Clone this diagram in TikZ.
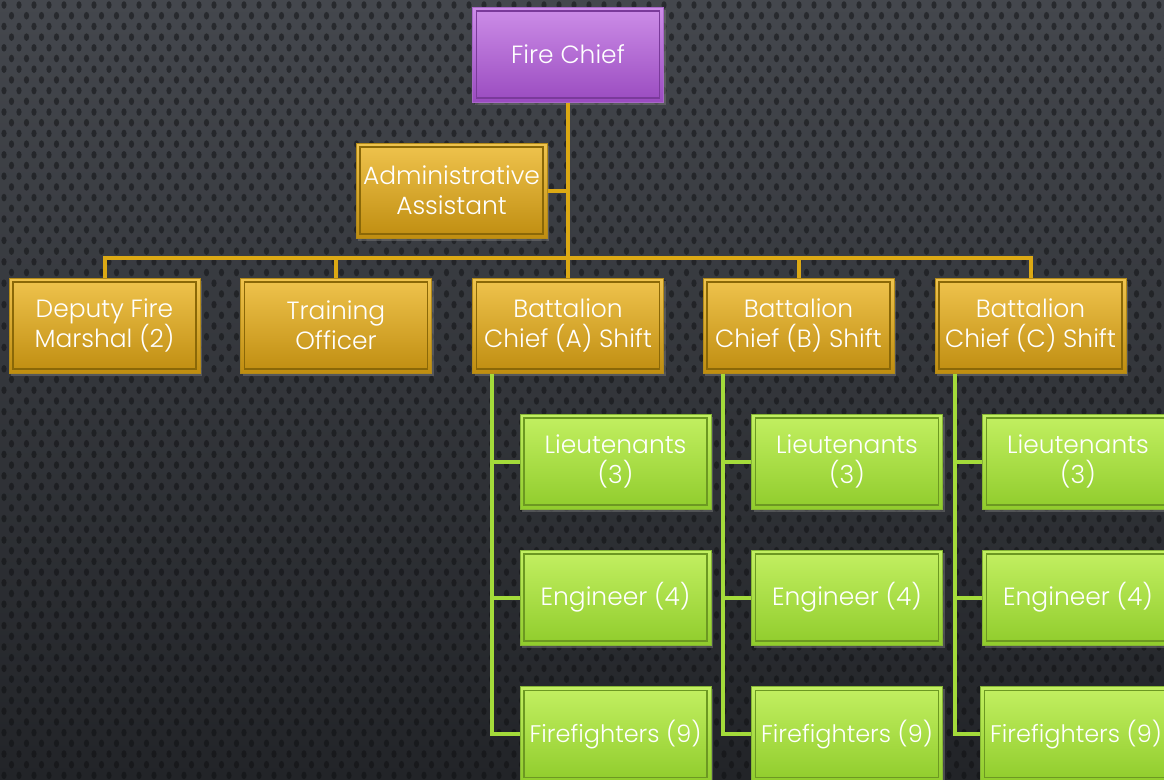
\documentclass[tikz,border=0pt]{standalone}
\usepackage{fontspec}
\setmainfont{Poppins Light}
\usetikzlibrary{calc,shadows}

% palette
\definecolor{bgTop}{HTML}{44474D}
\definecolor{bgBot}{HTML}{222428}
\definecolor{dotC}{HTML}{0E0F11}
\definecolor{chiefTop}{HTML}{CD8EE8}
\definecolor{chiefBot}{HTML}{9A4BC0}
\definecolor{chiefEdge}{HTML}{A868C8}
\definecolor{chiefIn}{HTML}{7A3A9A}
\definecolor{goldTop}{HTML}{F0C44E}
\definecolor{goldBot}{HTML}{BF8D10}
\definecolor{goldEdge}{HTML}{B38A18}
\definecolor{goldIn}{HTML}{8A6808}
\definecolor{goldLine}{HTML}{DCA914}
\definecolor{grnTop}{HTML}{C3F062}
\definecolor{grnBot}{HTML}{90CC2C}
\definecolor{grnEdge}{HTML}{86B634}
\definecolor{grnIn}{HTML}{6C9822}
\definecolor{grnLine}{HTML}{A4DB3A}

\tikzset{
  unitbox/.style={rectangle, minimum width=143.25pt, minimum height=71.25pt,
    inner sep=0pt, align=center, text=white, line width=0.75pt,
    font=\fontsize{18.7}{22.5}\selectfont,
    drop shadow={opacity=0.45, shadow xshift=1.5pt, shadow yshift=-2pt}},
  frame/.style={path picture={\draw[#1, line width=1pt]
      ([shift={(3pt,-3pt)}]path picture bounding box.north west) rectangle
      ([shift={(-3pt,3pt)}]path picture bounding box.south east);}},
  chiefbox/.style={unitbox, top color=chiefTop, bottom color=chiefBot,
    draw=chiefEdge, frame=chiefIn},
  goldbox/.style={unitbox, top color=goldTop, bottom color=goldBot,
    draw=goldEdge, frame=goldIn},
  grnbox/.style={unitbox, top color=grnTop, bottom color=grnBot,
    draw=grnEdge, frame=grnIn},
  ffbox/.style={grnbox, font=\fontsize{18}{22.5}\selectfont},
  goldlink/.style={draw=goldLine, line width=3pt},
  grnlink/.style={draw=grnLine, line width=3pt},
}

\begin{document}
\begin{tikzpicture}[x=0.75pt,y=-0.75pt]
\useasboundingbox (0,0) rectangle (1164,779);
\clip (0,0) rectangle (1164,779);

% perforated dark backdrop, one path per row of holes
\shade[top color=bgTop, bottom color=bgBot] (0,0) rectangle (1164,779);
\foreach \r in {0,...,73} {
  \pgfmathsetmacro{\dx}{mod(\r,2)*7.5+4}
  \pgfmathsetmacro{\dy}{\r*10.7+5}
  \fill[dotC, opacity=0.5]
    \foreach \c in {0,...,78} { ({\c*15+\dx},\dy) ellipse (2.6 and 3.8) };
}

% top of the tree
\node[chiefbox] (chief) at (568,54.5) {Fire Chief};
\node[goldbox]  (admin) at (451.5,190.5) {Administrative\\Assistant};

% second level
\node[goldbox] (deputy)   at (104.5,325.5) {Deputy Fire\\Marshal (2)};
\node[goldbox] (training) at (336,325.5)   {Training\\Of{}f{}icer};
\node[goldbox] (batA)     at (568,325.5)   {Battalion\\Chief (A) Shift};
\node[goldbox] (batB)     at (798.5,325.5) {Battalion\\Chief (B) Shift};
\node[goldbox] (batC)     at (1030.5,325.5){Battalion\\Chief (C) Shift};

% shift crews
\node[grnbox] (ltA) at (615.5,461.5) {Lieutenants\\(3)};
\node[grnbox] (enA) at (615.5,597.5) {Engineer (4)};
\node[ffbox]  (ffA) at (615.5,734)   {Firef{}ighters (9)};
\node[grnbox] (ltB) at (847,461.5)   {Lieutenants\\(3)};
\node[grnbox] (enB) at (847,597.5)   {Engineer (4)};
\node[ffbox]  (ffB) at (847,734)     {Firef{}ighters (9)};
\node[grnbox] (ltC) at (1078,461.5)  {Lieutenants\\(3)};
\node[grnbox] (enC) at (1078,597.5)  {Engineer (4)};
\node[ffbox]  (ffC) at (1076,734)    {Firef{}ighters (9)};

% gold reporting lines
\coordinate (bus) at (568,258);
\draw[goldlink] (chief.south) -- (chief.south |- bus);
\draw[goldlink] (admin.east) -- (admin.east -| chief.south);
\draw[goldlink] (deputy.north) |- (bus) -| (batC.north);
\foreach \n in {training,batA,batB}
  \draw[goldlink] (\n.north) -- (\n.north |- bus);

% green crew lines
\foreach \s in {A,B,C} {
  \coordinate (spine\s) at ($(bat\s.south west)+(20,0)$);
  \draw[grnlink] (spine\s) |- (ff\s.west);
  \draw[grnlink] (lt\s.west) -- (lt\s.west -| spine\s);
  \draw[grnlink] (en\s.west) -- (en\s.west -| spine\s);
}
\end{tikzpicture}
\end{document}
